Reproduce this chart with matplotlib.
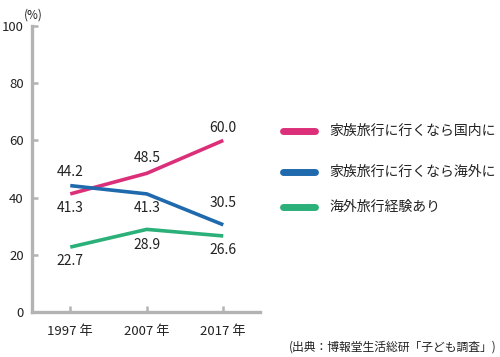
import matplotlib
matplotlib.use('Agg')
import matplotlib.pyplot as plt

plt.rcParams['font.family'] = ['Noto Sans CJK JP', 'DejaVu Sans']

years = ['1997 年', '2007 年', '2017 年']
domestic = [41.3, 48.5, 60.0]
overseas = [44.2, 41.3, 30.5]
experience = [22.7, 28.9, 26.6]
names = ['家族旅行に行くなら国内に', '家族旅行に行くなら海外に', '海外旅行経験あり']
colors = ['#dc2f7a', '#1f69ad', '#2bb07a']
# label offsets (pixels) for each point: above (+) or below (-)
offsets = [[-14, 15, 12], [14, -14, 22], [-14, -16, -14]]

fig = plt.figure(figsize=(5, 3.57), dpi=100)
ax = fig.add_axes([0.064, 0.126, 0.456, 0.801])

x = range(len(years))
series = [domestic, overseas, experience]
for vals, col, offs in zip(series, colors, offsets):
    ax.plot(x, vals, color=col, lw=2.6, solid_capstyle='butt', solid_joinstyle='round')
    for xi, v, o in zip(x, vals, offs):
        ax.annotate(f'{v:.1f}', (xi, v), xytext=(0, o), textcoords='offset pixels',
                    ha='center', va='center', fontsize=10, color='#222222')

ax.set_xlim(-0.5, 2.48)
ax.set_ylim(0, 100)
ax.set_yticks(range(0, 101, 20))
ax.set_xticks(list(x))
ax.set_xticklabels(years)
for s in ['top', 'right']:
    ax.spines[s].set_visible(False)
for s in ['left', 'bottom']:
    ax.spines[s].set_color('#b3b3b3')
    ax.spines[s].set_linewidth(2.4)
ax.tick_params(direction='in', length=4, width=1.8, color='#b3b3b3',
               labelsize=9.5, labelcolor='#222222')
ax.tick_params(axis='y', pad=6)
ax.tick_params(axis='x', pad=9)

fig.text(0.066, 0.975, '(%)', ha='center', va='top', fontsize=8.5, color='#222222')

# legend drawn by hand
leg_y = [0.633, 0.518, 0.42]
for name, col, yy in zip(names, colors, leg_y):
    fig.add_artist(plt.Line2D([0.565, 0.63], [yy, yy], color=col, lw=5,
                              solid_capstyle='round', transform=fig.transFigure))
    fig.text(0.658, yy, name, ha='left', va='center', fontsize=10, color='#222222')

fig.text(0.994, 0.028, '(出典：博報堂生活総研「子ども調査」)', ha='right', va='center',
         fontsize=8.5, color='#222222')

fig.savefig('out.png', dpi=100)
